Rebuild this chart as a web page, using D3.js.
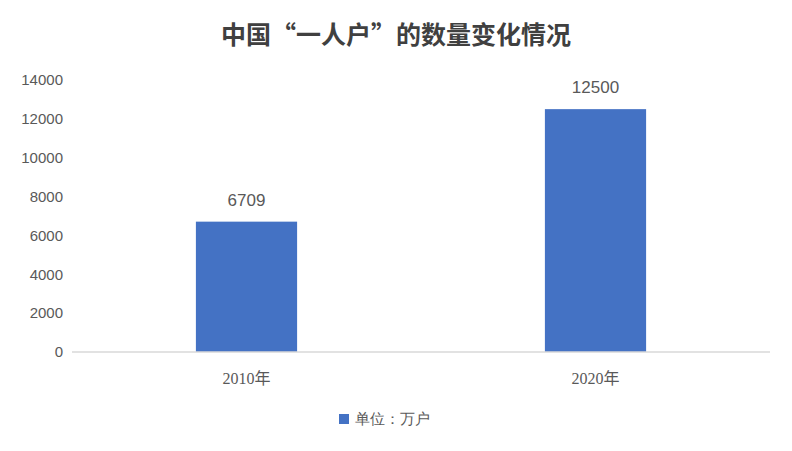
<!DOCTYPE html>
<html lang="zh">
<head>
  <meta charset="UTF-8" />
  <title>中国一人户</title>
  <style>
    body { margin: 0; background: #fff; }
    text { font-family: "Liberation Sans", Arial, sans-serif; fill: #595959; }
    .title { font-family: "Noto Sans CJK SC", sans-serif; font-weight: bold; font-size: 25px; fill: #404040; text-anchor: middle; }
    .cat { font-family: "Liberation Serif", "Noto Sans CJK SC", serif; font-size: 16px; }
  </style>
</head>
<body>
  <svg width="792" height="451"></svg>
  <script src="https://d3js.org/d3.v7.min.js"></script>
  <script>
    // 数据
    const categories = ['2010年', '2020年'];
    const values = [6709, 12500];
    const yTicks = [0, 2000, 4000, 6000, 8000, 10000, 12000, 14000];
    const seriesName = '单位：万户';

    const svg = d3.select('svg');
    const x = d3.scaleBand().domain(categories).range([72, 770]);
    const y = d3.scaleLinear().domain([0, 14000]).range([352, 80]);
    const barW = x.bandwidth() * 0.29;

    svg.append('text').attr('class', 'title')
      .attr('x', 396).attr('y', 44).text('中国“一人户”的数量变化情况');

    // y 轴标签
    svg.selectAll('.yt').data(yTicks).join('text')
      .attr('x', 63).attr('y', d => y(d)).attr('dy', '0.35em')
      .attr('text-anchor', 'end').attr('font-size', 15).text(d => d);

    // 柱子
    svg.selectAll('rect.bar').data(values).join('rect')
      .attr('class', 'bar')
      .attr('x', (d, i) => x(categories[i]) + x.bandwidth() / 2 - barW / 2)
      .attr('y', d => y(d)).attr('width', barW).attr('height', d => y(0) - y(d))
      .attr('fill', '#4472C4');

    // 数据标签
    svg.selectAll('.lbl').data(values).join('text')
      .attr('x', (d, i) => x(categories[i]) + x.bandwidth() / 2)
      .attr('y', d => y(d) - 16).attr('text-anchor', 'middle')
      .attr('font-size', 17).attr('fill', '#404040').text(d => d);

    // x 轴
    svg.append('line').attr('x1', 72).attr('x2', 770).attr('y1', y(0)).attr('y2', y(0))
      .attr('stroke', '#d9d9d9').attr('stroke-width', 1.5);
    svg.selectAll('.cat').data(categories).join('text').attr('class', 'cat')
      .attr('x', d => x(d) + x.bandwidth() / 2).attr('y', 384)
      .attr('text-anchor', 'middle').text(d => d);

    // 图例
    svg.append('rect').attr('x', 339).attr('y', 414).attr('width', 10).attr('height', 10).attr('fill', '#4472C4');
    svg.append('text').attr('x', 355).attr('y', 424)
      .attr('font-family', '"Noto Sans CJK SC", sans-serif').attr('font-size', 15).text(seriesName);
  </script>
</body>
</html>
